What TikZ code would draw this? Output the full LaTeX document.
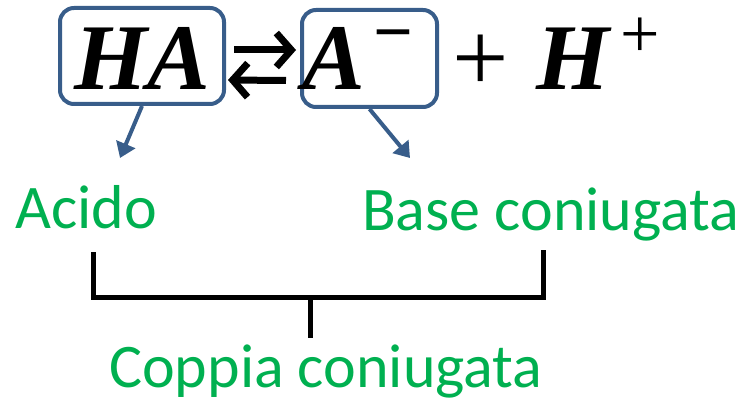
\documentclass[tikz,border=0pt]{standalone}
\usepackage{fontspec}
\setmainfont{Liberation Serif}
\newfontfamily\calib{Carlito}
\usetikzlibrary{arrows.meta}
\definecolor{boxblue}{RGB}{56,93,138}
\definecolor{labgreen}{RGB}{0,176,80}
\tikzset{
  formula/.style={inner sep=0pt, anchor=base west, font=\fontsize{94}{94}\selectfont\bfseries\itshape},
  symb/.style={inner sep=0pt, anchor=center},
  specbox/.style={draw=boxblue, line width=4pt, rounded corners=14pt, inner sep=0pt},
  lab/.style={inner sep=0pt, anchor=base west, text=labgreen, font=\calib\fontsize{62}{62}\selectfont},
  bluearr/.style={draw=boxblue, line width=4pt, -{Triangle[length=15pt,width=20pt]}},
  eqarr/.style={line width=7pt, -{Straight Barb[length=15pt,width=34pt]}},
  bracketline/.style={line width=5pt, line cap=butt}
}
\begin{document}
\begin{tikzpicture}[x=1pt,y=-1pt]
\useasboundingbox (0,0) rectangle (756,404);
% boxes
\node[specbox, minimum width=164pt, minimum height=96pt] (boxHA) at (142,56) {};
\node[specbox, minimum width=135pt, minimum height=97pt] (boxA) at (369.5,58.5) {};
% formula
\node[formula] (HA) at (74,90) {HA};
\node[formula] (Aminus) at (302,90) {A};
\node[symb, font=\fontsize{70}{70}\selectfont\bfseries] (minus) at (393,43) {−};
\node[symb, font=\fontsize{100}{100}\selectfont] (plus) at (481,63) {+};
\node[formula] (Hplus) at (536,90) {H};
\node[symb, font=\fontsize{70}{70}\selectfont] (sup) at (640,38) {+};
% equilibrium arrows
\draw[eqarr] ([xshift=8pt,yshift=6pt]boxHA.east) -- ([xshift=-4pt,yshift=8.5pt]boxA.west);
\draw[eqarr] ([xshift=-14pt,yshift=-22pt]boxA.west) -- ([xshift=2pt,yshift=-24pt]boxHA.east);
% labels
\node[lab] (acido) at (15,228) {Acido};
\node[lab] (base) at (362,230) {Base coniugata};
\node[lab] (coppia) at (109,387) {Coppia coniugata};
% blue arrows
\coordinate (tipL) at (120,158);
\coordinate (tipR) at (410,158);
\draw[bluearr] (boxHA.south) -- (tipL);
\draw[bluearr] (boxA.south) -- (tipR);
% bracket
\coordinate (bl) at (93,252);
\coordinate (br) at (543,250);
\coordinate (bmid) at (310,297);
\coordinate (stem) at (310,338);
\draw[bracketline] (bl) |- (bmid) -| (br);
\draw[bracketline] (bmid) -- (stem);
\end{tikzpicture}
\end{document}
